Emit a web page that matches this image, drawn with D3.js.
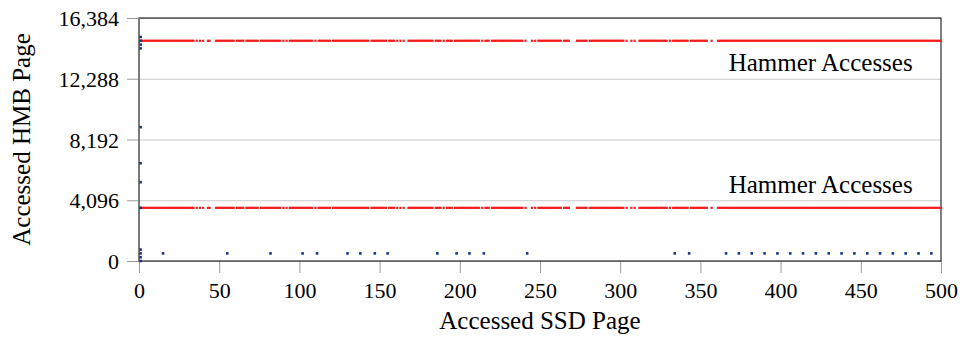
<!DOCTYPE html>
<html>
<head>
<meta charset="utf-8">
<script src="https://cdn.jsdelivr.net/npm/d3@7"></script>
<style>
  body { margin: 0; background: #fff; }
  svg text { font-family: "Liberation Serif", "DejaVu Serif", "Times New Roman", serif !important; fill: #000; }
</style>
</head>
<body>
<svg id="hammer" width="962" height="337"></svg>
<script>
// y ticks (powers of two pages)
const yTicks = [0, 4096, 8192, 12288, 16384];
const xTicks = [0, 50, 100, 150, 200, 250, 300, 350, 400, 450, 500];

// SSD pages where the two hammer rows got hit (same pattern in both rows)
const hammerPages = [
  1,2,3,4,5,6,7,8,9,10,11,12,13,14,15,16,17,18,19,20,21,22,23,24,25,26,27,28,29,30,31,32,33,34,
  36,38,40,43,44,
  48,49,50,51,52,53,54,55,56,57,58,59,
  61,62,63,64,65,
  67,68,69,70,71,72,73,74,
  76,77,78,79,80,81,82,83,84,85,86,87,88,
  90,92,
  94,95,96,97,98,99,100,101,102,103,104,105,106,107,108,
  110,
  112,113,114,115,116,117,118,119,
  121,122,123,124,125,126,127,128,129,130,131,132,133,134,135,136,137,138,139,140,141,142,143,
  145,146,147,148,149,150,151,152,153,154,
  156,157,158,159,
  161,163,165,
  168,169,170,171,172,173,174,175,176,177,178,179,180,181,182,183,
  185,186,187,188,
  190,
  192,193,194,195,
  197,198,199,200,201,202,203,204,205,206,207,208,209,210,211,212,
  214,
  216,217,218,
  220,221,222,223,224,225,226,227,228,229,230,231,232,233,234,235,236,237,238,239,
  241,
  245,247,
  249,250,251,252,253,254,255,256,257,258,259,260,261,262,263,
  265,266,267,268,
  273,274,275,276,277,278,279,
  281,282,283,284,285,286,287,288,289,290,291,292,293,294,295,296,297,298,299,300,301,302,
  304,307,309,
  312,313,314,315,316,317,318,319,320,321,322,323,324,325,326,327,328,329,
  331,
  333,334,335,336,337,338,339,340,341,342,
  344,345,346,347,348,349,350,351,352,353,354,
  357,
  361,362,363,364,365,366,367,368,369,370,371,372,373,374,375,376,377,378,379,380,
  381,382,383,384,385,386,387,388,389,390,391,392,393,394,395,396,397,398,399,400,
  401,402,403,404,405,406,407,408,409,410,411,412,413,414,415,416,417,418,419,420,
  421,422,423,424,425,426,427,428,429,430,431,432,433,434,435,436,437,438,439,440,
  441,442,443,444,445,446,447,448,449,450,451,452,453,454,455,456,457,458,459,460,
  461,462,463,464,465,466,467,468,469,470,471,472,473,474,475,476,477,478,479,480,
  481,482,483,484,485,486,487,488,489,490,491,492,493,494,495,496,497,498,499,500
];
const hammerRows = [14848, 3584];
const hammerLabel = "Hammer Accesses";

// other accesses (blue)
const otherX = [1,1,1,1,1,1,1,1,1,1,1,1,
  15,55,82,102,111,130,138,147,155,186,198,206,215,242,
  334,343,366,374,382,390,398,406,414,422,430,438,446,454,462,470,478,486,494];
const otherY = [15104,14848,14592,14336,9024,6592,5312,3584,768,512,256,0,
  512,512,512,512,512,512,512,512,512,512,512,512,512,512,
  512,512,512,512,512,512,512,512,512,512,512,512,512,512,512,512,512,512,512];

const serif = '"Liberation Serif", "DejaVu Serif", serif';

const svg = d3.select("svg#hammer");
const margin = { top: 18, right: 21, bottom: 76, left: 139 };
const width = +svg.attr("width");
const height = +svg.attr("height");
const chartWidth = width - margin.left - margin.right;
const chartHeight = height - margin.top - margin.bottom;

const xScale = d3.scaleLinear().domain([0, 500]).range([0, chartWidth]);
const yScale = d3.scaleLinear().domain([0, 16384]).range([chartHeight, 0]);

const chart = svg.append("g").attr("transform", `translate(${margin.left},${margin.top})`);

// gridlines
chart.append("g")
    .attr("class", "gridlines")
    .call(d3.axisLeft(yScale).tickValues(yTicks).tickSize(-chartWidth).tickFormat(""))
    .call(g => g.select(".domain").remove())
    .call(g => g.selectAll("line").attr("stroke", "#c8c8c8").attr("stroke-width", 1));

// y axis
chart.append("g")
    .attr("class", "y axis")
    .call(d3.axisLeft(yScale).tickValues(yTicks).tickSize(12).tickPadding(8).tickFormat(d3.format(",")))
    .attr("font-family", serif)
    .call(g => g.select(".domain").remove())
    .call(g => g.selectAll("line").attr("stroke", "#9a9a9a"))
    .call(g => g.selectAll("text").style("font-size", "22px").attr("dy", "0.35em"));

// x axis
chart.append("g")
    .attr("class", "x axis")
    .attr("transform", `translate(0,${chartHeight})`)
    .call(d3.axisBottom(xScale).tickValues(xTicks).tickSize(12).tickPadding(8))
    .attr("font-family", serif)
    .call(g => g.select(".domain").remove())
    .call(g => g.selectAll("line").attr("stroke", "#9a9a9a"))
    .call(g => g.selectAll("text").style("font-size", "22px").attr("dy", "0.76em"));

// frame
chart.append("rect")
    .attr("width", chartWidth).attr("height", chartHeight)
    .attr("fill", "none").attr("stroke", "#000").attr("stroke-width", 1);
chart.append("line")
    .attr("x1", 0).attr("x2", 0).attr("y1", 0).attr("y2", chartHeight)
    .attr("stroke", "#7a7a7a").attr("stroke-width", 2);

// hammer rows
const hammerPts = [];
hammerRows.forEach(r => hammerPages.forEach(p => hammerPts.push({ x: p, y: r })));
const m = 2.2;
chart.append("g").selectAll("rect.hammer").data(hammerPts)
    .join("rect").attr("class", "hammer")
    .attr("x", d => xScale(d.x) - m / 2)
    .attr("y", d => yScale(d.y) - m / 2)
    .attr("width", m).attr("height", m)
    .attr("fill", "#f41c1c");

// other accesses
const otherPts = otherX.map((x, i) => ({ x: x, y: otherY[i] }));
chart.append("g").selectAll("rect.other").data(otherPts)
    .join("rect").attr("class", "other")
    .attr("x", d => xScale(d.x) - 1.3)
    .attr("y", d => yScale(d.y) - 1.3)
    .attr("width", 2.6).attr("height", 2.6)
    .attr("fill", "#14358c");

// labels
[0, 1].forEach(i => {
  chart.append("text")
      .attr("x", xScale(425))
      .attr("y", i === 0 ? yScale(hammerRows[0]) + 30 : yScale(hammerRows[1]) - 15)
      .attr("text-anchor", "middle")
      .style("font-size", "25px")
      .text(hammerLabel);
});

// axis titles
svg.append("text")
    .attr("x", margin.left + chartWidth / 2).attr("y", 329)
    .attr("text-anchor", "middle")
    .style("font-size", "25px")
    .text("Accessed SSD Page");
svg.append("text")
    .attr("transform", `translate(30,${margin.top + chartHeight / 2}) rotate(-90)`)
    .attr("text-anchor", "middle")
    .style("font-size", "25px")
    .text("Accessed HMB Page");
</script>
</body>
</html>
